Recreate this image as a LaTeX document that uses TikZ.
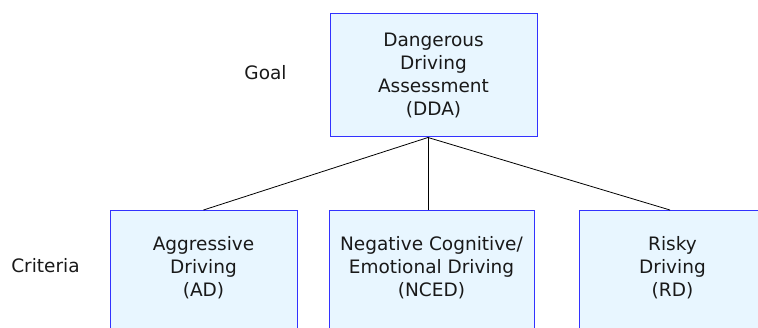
\documentclass[tikz,border=0pt]{standalone}
\usepackage{fontspec}
\setmainfont{DejaVu Sans}
\definecolor{boxline}{RGB}{50,50,255}
\definecolor{boxfill}{RGB}{232,246,255}
\begin{document}
\begin{tikzpicture}[x=1pt,y=1pt,
    box/.style={draw=boxline,fill=boxfill,align=center,line width=1pt,font=\fontsize{18.5}{23.3}\selectfont,text=black!90},
    crit/.style={box,anchor=north,inner xsep=0pt,inner ysep=25.5pt,text depth=120pt},
    tag/.style={font=\fontsize{18.5}{23.3}\selectfont,text=black!90}]
    \clip (0,0) rectangle (758,327);
    \node[box,minimum width=207,minimum height=123] (dda) at (433.5,251.5) {Dangerous\\Driving\\Assessment\\(DDA)};
    \coordinate (hub) at ([xshift=-5.5pt]dda.south);
    %                x  width  text
    \foreach \x/\w/\t [count=\i] in {203.5/187/{Aggressive\\Driving\\(AD)},431.5/205/{Negative Cognitive/\\Emotional Driving\\(NCED)},672.5/187/{Risky\\Driving\\(RD)}}
      {\node[crit,minimum width=\w] (c\i) at (\x,117) {\t};}
    \node[tag] (goal) at (265.5,254.5) {Goal};
    \node[tag] (criteria) at (45.5,61.5) {Criteria};
    \draw[line width=0.8pt] (hub)--(c1.north);
    \draw[line width=0.8pt] (hub)--(hub |- c2.north);
    \draw[line width=0.8pt] (hub)--([xshift=-2.5pt]c3.north);
\end{tikzpicture}
\end{document}
